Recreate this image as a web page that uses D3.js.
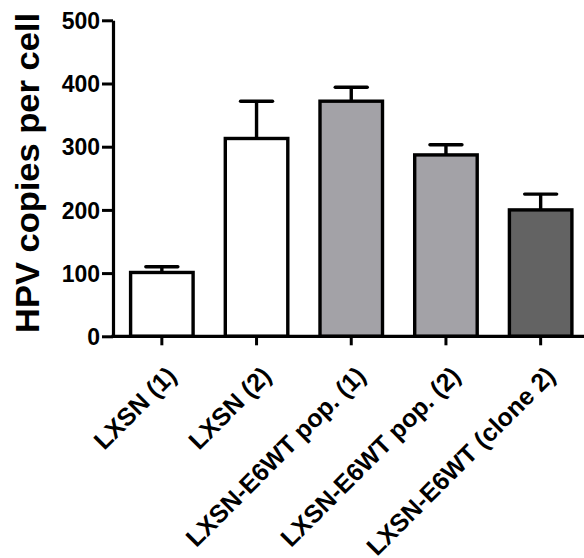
<!DOCTYPE html>
<html>
<head>
<meta charset="utf-8">
<script src="https://cdn.jsdelivr.net/npm/d3@7"></script>
<style>
  body { margin: 0; background: #fff; }
  text { font-family: "Liberation Sans", Arial, sans-serif; font-weight: bold; }
</style>
</head>
<body>
<div id="chart"></div>
<script>
// data
var groups = ["LXSN (1)", "LXSN (2)", "LXSN-E6WT pop. (1)", "LXSN-E6WT pop. (2)", "LXSN-E6WT (clone 2)"];
var means = [101, 313, 372, 287, 200];
var errors = [9, 59, 22, 16, 25];
var fills = ["#ffffff", "#ffffff", "#a3a2a7", "#a3a2a7", "#636363"];
var yTicks = [0, 100, 200, 300, 400, 500];

var data = groups.map(function(g, i) {
  return {name: g, mean: means[i], err: errors[i], fill: fills[i]};
});

var width = 584, height = 558;

var svg = d3.select("#chart")
  .append("svg")
    .attr("width", width)
    .attr("height", height);

// scales
var x = d3.scaleBand()
  .domain(groups)
  .range([114.5, 588])
  .paddingInner(0.34)
  .paddingOuter(0.17);

var y = d3.scaleLinear()
  .domain([0, 500])
  .range([336.3, 20.3]);

var axisX = 113;

// bars
svg.append("g")
  .selectAll("rect")
  .data(data)
  .enter()
  .append("rect")
    .attr("x", function(d) { return x(d.name); })
    .attr("y", function(d) { return y(d.mean); })
    .attr("width", x.bandwidth())
    .attr("height", function(d) { return y(0) - y(d.mean); })
    .attr("fill", function(d) { return d.fill; })
    .attr("stroke", "#000")
    .attr("stroke-width", 3.4);

// error bars (upper only)
var eb = svg.append("g").attr("stroke", "#000").attr("stroke-width", 3.4);
eb.selectAll("line.v")
  .data(data)
  .enter()
  .append("line")
    .attr("class", "v")
    .attr("x1", function(d) { return x(d.name) + x.bandwidth() / 2; })
    .attr("x2", function(d) { return x(d.name) + x.bandwidth() / 2; })
    .attr("y1", function(d) { return y(d.mean); })
    .attr("y2", function(d) { return y(d.mean + d.err); });
eb.selectAll("line.cap")
  .data(data)
  .enter()
  .append("line")
    .attr("class", "cap")
    .attr("stroke-linecap", "round")
    .attr("x1", function(d) { return x(d.name) + x.bandwidth() / 2 - 16; })
    .attr("x2", function(d) { return x(d.name) + x.bandwidth() / 2 + 16; })
    .attr("y1", function(d) { return y(d.mean + d.err); })
    .attr("y2", function(d) { return y(d.mean + d.err); });

// y axis
var gy = svg.append("g")
  .attr("transform", "translate(" + axisX + ",0)")
  .call(d3.axisLeft(y).tickValues(yTicks).tickSize(11).tickPadding(2).tickSizeOuter(0));
gy.select(".domain").attr("stroke-width", 3.2);
gy.selectAll(".tick line").attr("stroke-width", 3);
gy.selectAll(".tick text")
  .attr("fill", "#000")
  .style("font-size", "23px")
  .attr("dy", "0.36em");

// x axis
var gx = svg.append("g")
  .attr("transform", "translate(0," + y(0) + ")")
  .call(d3.axisBottom(x).tickSize(9).tickSizeOuter(0));
gx.select(".domain")
  .attr("d", "M" + (axisX - 1.6) + ",0H" + width)
  .attr("stroke-width", 3.2);
gx.selectAll(".tick line").attr("stroke-width", 3);
gx.selectAll(".tick text")
  .attr("fill", "#000")
  .style("font-size", "25px")
  .attr("text-anchor", "end")
  .attr("x", 0)
  .attr("y", 0)
  .attr("dy", null)
  .attr("transform", "translate(16,41) rotate(-45)");

// y title
svg.append("text")
  .attr("transform", "translate(39,173) rotate(-90)")
  .attr("text-anchor", "middle")
  .style("font-size", "34px")
  .attr("textLength", 320)
  .attr("lengthAdjust", "spacingAndGlyphs")
  .text("HPV copies per cell");
</script>
</body>
</html>
